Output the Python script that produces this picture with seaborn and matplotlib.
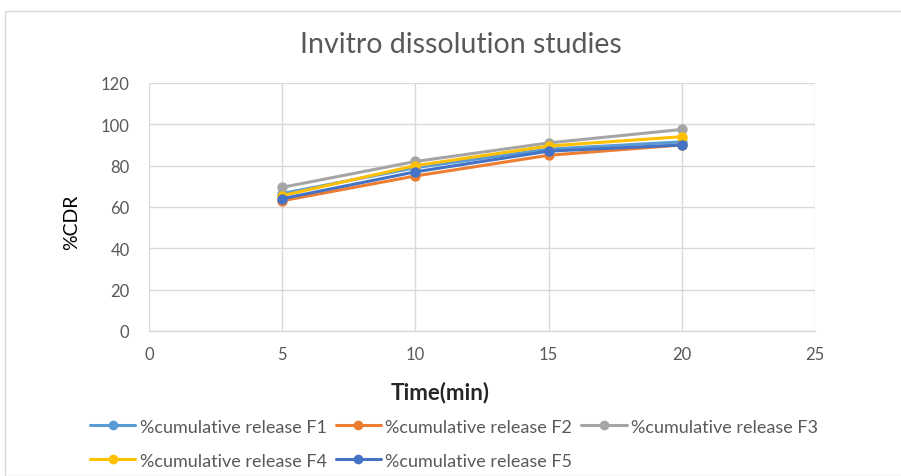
import numpy as np
import pandas as pd
import matplotlib
matplotlib.use("Agg")
import matplotlib.pyplot as plt
import seaborn as sns
from matplotlib.patches import Rectangle

time_min = [5, 10, 15, 20]
f1 = [66.5, 79.0, 88.0, 91.5]
f2 = [63.0, 75.0, 85.0, 90.0]
f3 = [69.5, 82.0, 91.0, 97.5]
f4 = [65.5, 80.0, 89.5, 94.0]
f5 = [64.0, 77.0, 87.0, 90.0]
series_names = ["%cumulative release F1", "%cumulative release F2",
                "%cumulative release F3", "%cumulative release F4",
                "%cumulative release F5"]
series_values = [f1, f2, f3, f4, f5]
colors = ["#5B9BD5", "#ED7D31", "#A5A5A5", "#FFC000", "#4472C4"]
x_ticks = [0, 5, 10, 15, 20, 25]
y_ticks = [0, 20, 40, 60, 80, 100, 120]

rows = []
for name, vals in zip(series_names, series_values):
    for t, v in zip(time_min, vals):
        rows.append({"Time": t, "CDR": v, "Series": name})
df = pd.DataFrame(rows)

sns.set_theme(style="white")
plt.rcParams["font.family"] = ["Lato", "DejaVu Sans"]

fig = plt.figure(figsize=(9.01, 4.77), dpi=100)
ax = fig.add_axes([0.1654, 0.304, 0.739, 0.52])

sns.lineplot(data=df, x="Time", y="CDR", hue="Series", hue_order=series_names,
             palette=colors, marker="o", markersize=7.5, markeredgewidth=0,
             linewidth=2.2, ax=ax, legend=False)

ax.set_xlim(0, 25)
ax.set_ylim(0, 120)
ax.set_xticks(x_ticks)
ax.set_yticks(y_ticks)
ax.grid(True, color="#D9D9D9", linewidth=1)
ax.set_axisbelow(True)
for s in ["top", "right"]:
    ax.spines[s].set_visible(False)
ax.spines["left"].set_visible(False)
ax.spines["bottom"].set_color("#D9D9D9")
ax.spines["bottom"].set_linewidth(1)
ax.tick_params(axis="both", length=0, labelsize=12, colors="#595959")
ax.tick_params(axis="y", pad=14)
ax.tick_params(axis="x", pad=11)

ax.set_xlabel("Time(min)", fontsize=16, fontweight="bold", color="#262626")
ax.xaxis.set_label_coords(0.437, -0.2)
ax.set_ylabel("%CDR", fontsize=14, color="black")
ax.yaxis.set_label_coords(-0.103, 0.444)
fig.text(0.512, 0.905, "Invitro dissolution studies", ha="center", va="center",
         fontsize=20.5, color="#595959")

handles = [plt.Line2D([], [], color=c, marker="o", markersize=7, linewidth=2.2,
                      markeredgewidth=0) for c in colors]
order = [0, 3, 1, 4, 2]
fig.legend([handles[i] for i in order], [series_names[i] for i in order],
           ncol=3, loc="upper left", bbox_to_anchor=(0.1, 0.12),
           frameon=False, fontsize=13, handlelength=2.5, handletextpad=0.25,
           columnspacing=0.5, labelspacing=1.0, borderpad=0, borderaxespad=0,
           labelcolor="#595959")

fig.patches.append(Rectangle((0.006, 0.0), 1.2, 0.975, transform=fig.transFigure,
                             fill=False, edgecolor="#D9D9D9", linewidth=1))

fig.savefig("out.png", dpi=100)
